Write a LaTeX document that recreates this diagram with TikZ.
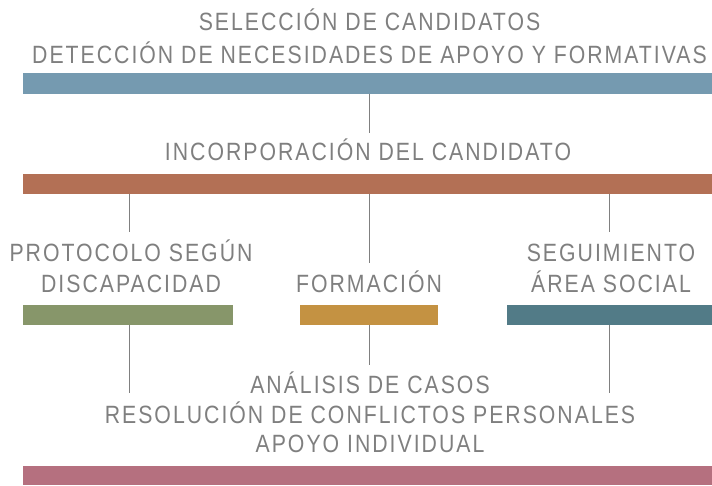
\documentclass[tikz,border=0pt]{standalone}
\usepackage{fontspec}
\setmainfont[FakeStretch=0.85,LetterSpace=8]{Liberation Sans}
\definecolor{txtgray}{HTML}{7F7F7F}
\definecolor{linegray}{HTML}{808080}
\definecolor{cblue}{HTML}{759AB0}
\definecolor{cbrown}{HTML}{B37055}
\definecolor{cgreen}{HTML}{87966A}
\definecolor{corange}{HTML}{C49242}
\definecolor{cteal}{HTML}{527B87}
\definecolor{cpink}{HTML}{B5707F}
\begin{document}
\begin{tikzpicture}[x=1pt,y=-1pt,
  lbl/.style={text=txtgray,font=\fontsize{25}{31}\selectfont,align=center,inner sep=0pt,anchor=base},
  conn/.style={draw=linegray,line width=0.9pt}]
\useasboundingbox (0,0) rectangle (712,485);
% bars
\fill[cblue]   (23,73)  rectangle (712,93.5);
\fill[cbrown]  (23,174) rectangle (712,194);
\fill[cgreen]  (23,305) rectangle (233,325);
\fill[corange] (300,305) rectangle (438,325);
\fill[cteal]   (507,305) rectangle (712,325);
\fill[cpink]   (23,466) rectangle (712,485);
% texts
\node[lbl] (sel) at (369.5,30) {SELECCIÓN DE CANDIDATOS};
\node[lbl] (det) at (369.5,63) {DETECCIÓN DE NECESIDADES DE APOYO Y FORMATIVAS};
\node[lbl] (inc) at (368,160) {INCORPORACIÓN DEL CANDIDATO};
\node[lbl] (pro1) at (131,261) {PROTOCOLO SEGÚN};
\node[lbl] (pro2) at (131,292) {DISCAPACIDAD};
\node[lbl] (for) at (369,292) {FORMACIÓN};
\node[lbl] (seg1) at (611,261) {SEGUIMIENTO};
\node[lbl] (seg2) at (611,292) {ÁREA SOCIAL};
\node[lbl] (ana) at (370,393) {ANÁLISIS DE CASOS};
\node[lbl] (res) at (370,423) {RESOLUCIÓN DE CONFLICTOS PERSONALES};
\node[lbl] (apo) at (370,452) {APOYO INDIVIDUAL};
% connector endpoints
\coordinate (a1) at (369.5,93.5);  \coordinate (a2) at (369.5,133);
\coordinate (b1) at (129.5,194);   \coordinate (b2) at (129.5,232);
\coordinate (c1) at (369.5,194);   \coordinate (c2) at (369.5,263);
\coordinate (d1) at (609.5,194);   \coordinate (d2) at (609.5,232);
\coordinate (e1) at (129.5,325);   \coordinate (e2) at (129.5,393);
\coordinate (f1) at (369.5,325);   \coordinate (f2) at (369.5,365);
\coordinate (g1) at (609.5,325);   \coordinate (g2) at (609.5,393);
\draw[conn] (a1) -- (a2);
\draw[conn] (b1) -- (b2);
\draw[conn] (c1) -- (c2);
\draw[conn] (d1) -- (d2);
\draw[conn] (e1) -- (e2);
\draw[conn] (f1) -- (f2);
\draw[conn] (g1) -- (g2);
\end{tikzpicture}
\end{document}
